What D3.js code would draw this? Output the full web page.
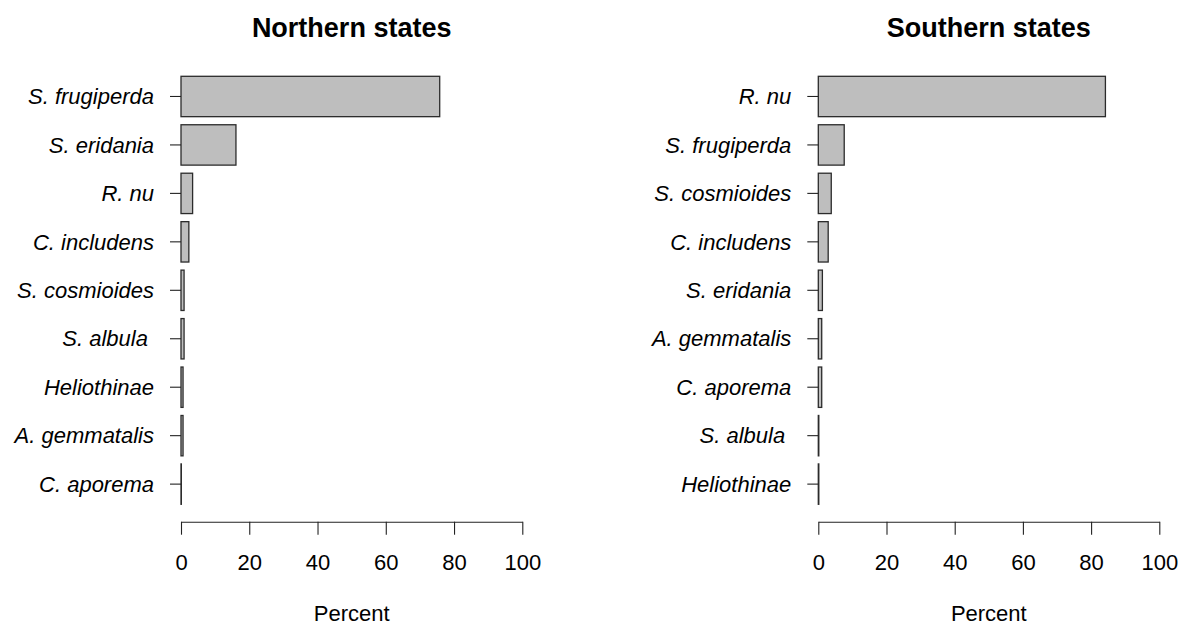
<!DOCTYPE html>
<html>
<head>
<meta charset="utf-8">
<script src="https://cdn.jsdelivr.net/npm/d3@7"></script>
<style>
  html, body { margin: 0; padding: 0; background: #fff; }
  svg { display: block; font-family: "Liberation Sans", Arial, sans-serif; }
</style>
</head>
<body>
<svg id="chart" width="1178" height="626"></svg>
<script>
// Species share (%) of larvae collected in each region
const northSpecies = ["S. frugiperda", "S. eridania", "R. nu", "C. includens", "S. cosmioides", "S. albula ", "Heliothinae", "A. gemmatalis", "C. aporema"];
const northPercent = [75.8, 16.1, 3.4, 2.3, 0.9, 0.9, 0.6, 0.6, 0.1];

const southSpecies = ["R. nu", "S. frugiperda", "S. cosmioides", "C. includens", "S. eridania", "A. gemmatalis", "C. aporema", "S. albula ", "Heliothinae"];
const southPercent = [84.2, 7.6, 3.8, 2.9, 1.2, 1.0, 1.0, 0.15, 0.15];

const xTicks = [0, 20, 40, 60, 80, 100];
const panelTitles = ["Northern states", "Southern states"];
const axisTitle = "Percent";

const svg = d3.select("#chart");

const panels = [
  { title: panelTitles[0], cats: northSpecies, vals: northPercent, x0: 181, x1: 522.3 },
  { title: panelTitles[1], cats: southSpecies, vals: southPercent, x0: 818.3, x1: 1159.3 }
];

const barTop = 76.3, barBottom = 504.3, axisY = 521.7;

panels.forEach(p => {
  const x = d3.scaleLinear().domain([0, 100]).range([p.x0, p.x1]);
  const y = d3.scaleBand().domain(p.cats).range([barTop, barBottom])
    .paddingInner(0.167).paddingOuter(0);

  const g = svg.append("g");

  // bars
  g.selectAll("rect.bar")
    .data(p.cats.map((c, i) => ({ c, v: p.vals[i] })))
    .join("rect")
    .attr("class", "bar")
    .attr("x", x(0))
    .attr("y", d => y(d.c))
    .attr("width", d => Math.max(0, x(d.v) - x(0)))
    .attr("height", y.bandwidth())
    .attr("fill", "#bebebe")
    .attr("stroke", "#2b2b2b")
    .attr("stroke-width", 1.3);

  // category axis: ticks and italic names, no axis line
  const yAxis = g.append("g")
    .attr("transform", `translate(${x(0)},0)`)
    .call(d3.axisLeft(y).tickSize(11).tickPadding(16));
  yAxis.select(".domain").remove();
  yAxis.selectAll(".tick line").attr("stroke", "#222").attr("stroke-width", 1.1);
  yAxis.selectAll(".tick text")
    .attr("fill", "#000")
    .style("font-size", "22px")
    .style("font-style", "italic")
    .style("white-space", "pre")
    .attr("dy", "0.35em");
  yAxis.attr("font-family", null).attr("font-size", null);

  // value axis
  const xAxis = g.append("g")
    .attr("transform", `translate(0,${axisY})`)
    .call(d3.axisBottom(x).tickValues(xTicks).tickSize(13).tickSizeOuter(0).tickFormat(d3.format("d")));
  xAxis.attr("font-family", null).attr("font-size", null);
  xAxis.select(".domain").attr("stroke", "#222").attr("stroke-width", 1.1);
  xAxis.selectAll(".tick line").attr("stroke", "#222").attr("stroke-width", 1.1);
  xAxis.selectAll(".tick text")
    .attr("fill", "#000")
    .attr("y", 41)
    .attr("dy", "0.35em")
    .style("font-size", "22px");

  // axis title
  g.append("text")
    .attr("x", (p.x0 + p.x1) / 2)
    .attr("y", 621)
    .attr("text-anchor", "middle")
    .style("font-size", "22px")
    .text(axisTitle);

  // panel title
  g.append("text")
    .attr("x", (p.x0 + p.x1) / 2)
    .attr("y", 28)
    .attr("dy", "0.35em")
    .attr("text-anchor", "middle")
    .style("font-size", "27px")
    .style("font-weight", "bold")
    .text(p.title);
});
</script>
</body>
</html>
